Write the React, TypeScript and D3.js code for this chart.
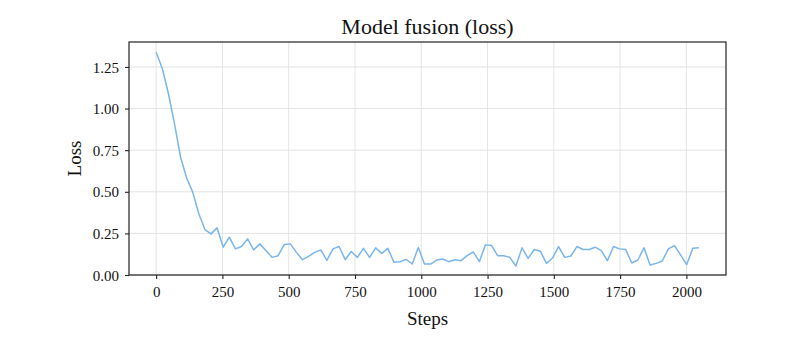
import React, { useEffect, useRef } from "react";
import * as d3 from "d3";

// logged every 23 steps, 90 points (0 .. 2047)
const stepSize = 23;
const lossValues = [
  1.339, 1.242, 1.092, 0.911, 0.709, 0.583, 0.498, 0.368, 0.273, 0.247,
  0.283, 0.167, 0.227, 0.157, 0.171, 0.217, 0.151, 0.187, 0.147, 0.106,
  0.116, 0.183, 0.187, 0.136, 0.092, 0.112, 0.136, 0.151, 0.088, 0.157,
  0.171, 0.092, 0.141, 0.106, 0.16, 0.106, 0.163, 0.13, 0.16, 0.076,
  0.08, 0.094, 0.066, 0.165, 0.066, 0.066, 0.09, 0.096, 0.08, 0.092,
  0.086, 0.116, 0.139, 0.08, 0.181, 0.177, 0.116, 0.116, 0.106, 0.054,
  0.163, 0.1, 0.153, 0.143, 0.07, 0.102, 0.171, 0.106, 0.114, 0.171,
  0.153, 0.153, 0.167, 0.147, 0.086, 0.171, 0.157, 0.153, 0.072, 0.09,
  0.163, 0.06, 0.07, 0.084, 0.157, 0.177, 0.121, 0.062, 0.16, 0.163,
];
const steps = lossValues.map((_, i) => i * stepSize);
const xTicks = [0, 250, 500, 750, 1000, 1250, 1500, 1750, 2000];
const yTicks = [0, 0.25, 0.5, 0.75, 1.0, 1.25];

const width = 800;
const height = 343;
const margin = { top: 42, right: 74, bottom: 68, left: 129 };

export default function App() {
  const ref = useRef<SVGSVGElement>(null);

  useEffect(() => {
    const svg = d3.select(ref.current);
    svg.selectAll("*").remove();
    const innerW = width - margin.left - margin.right;
    const innerH = height - margin.top - margin.bottom;
    const font = "'Liberation Serif', 'Times New Roman', serif";

    const xMax = d3.max(steps) as number;
    const pad = xMax * 0.05;
    const x = d3.scaleLinear().domain([-pad, xMax + pad]).range([0, innerW]);
    const y = d3.scaleLinear().domain([0, 1.4]).range([innerH, 0]);

    const g = svg.append("g").attr("transform", `translate(${margin.left},${margin.top})`);

    // grid
    g.append("g")
      .selectAll("line.vx")
      .data(xTicks)
      .enter()
      .append("line")
      .attr("x1", (d) => x(d))
      .attr("x2", (d) => x(d))
      .attr("y1", 0)
      .attr("y2", innerH)
      .attr("stroke", "#e3e3e3")
      .attr("stroke-width", 1);
    g.append("g")
      .selectAll("line.hy")
      .data(yTicks)
      .enter()
      .append("line")
      .attr("x1", 0)
      .attr("x2", innerW)
      .attr("y1", (d) => y(d))
      .attr("y2", (d) => y(d))
      .attr("stroke", "#e3e3e3")
      .attr("stroke-width", 1);

    const line = d3
      .line<number>()
      .x((_, i) => x(steps[i]))
      .y((d) => y(d));

    g.append("path")
      .datum(lossValues)
      .attr("d", line)
      .attr("fill", "none")
      .attr("stroke", "#7ab6ec")
      .attr("stroke-width", 1.5)
      .attr("stroke-linejoin", "round");

    const xAxis = d3.axisBottom(x).tickValues(xTicks).tickSize(4).tickPadding(7).tickFormat(d3.format("d"));
    const yAxis = d3.axisLeft(y).tickValues(yTicks).tickSize(4).tickPadding(6).tickFormat(d3.format(".2f"));

    const gx = g.append("g").attr("transform", `translate(0,${innerH})`).call(xAxis);
    const gy = g.append("g").call(yAxis);
    [gx, gy].forEach((a) => {
      a.select(".domain").remove();
      a.selectAll("line").attr("stroke", "#222").attr("stroke-width", 1.1);
      a.selectAll("text").attr("font-family", font).attr("font-size", 15).attr("fill", "#111");
    });
    gy.selectAll("text").attr("dy", "0.34em");

    // frame
    g.append("rect")
      .attr("width", innerW)
      .attr("height", innerH)
      .attr("fill", "none")
      .attr("stroke", "#222")
      .attr("stroke-width", 1.2);

    svg.append("text")
      .attr("x", margin.left + innerW / 2)
      .attr("y", 34)
      .attr("text-anchor", "middle")
      .attr("font-family", font)
      .attr("font-size", 22)
      .attr("fill", "#111")
      .text("Model fusion (loss)");

    svg.append("text")
      .attr("x", margin.left + innerW / 2)
      .attr("y", 325)
      .attr("text-anchor", "middle")
      .attr("font-family", font)
      .attr("font-size", 19)
      .attr("fill", "#111")
      .text("Steps");

    svg.append("text")
      .attr("transform", `translate(81,${margin.top + innerH / 2}) rotate(-90)`)
      .attr("text-anchor", "middle")
      .attr("font-family", font)
      .attr("font-size", 19)
      .attr("fill", "#111")
      .text("Loss");
  }, []);

  return (
    <svg
      ref={ref}
      width={width}
      height={height}
      style={{ position: "absolute", left: 0, top: 0, background: "#fff" }}
    />
  );
}
